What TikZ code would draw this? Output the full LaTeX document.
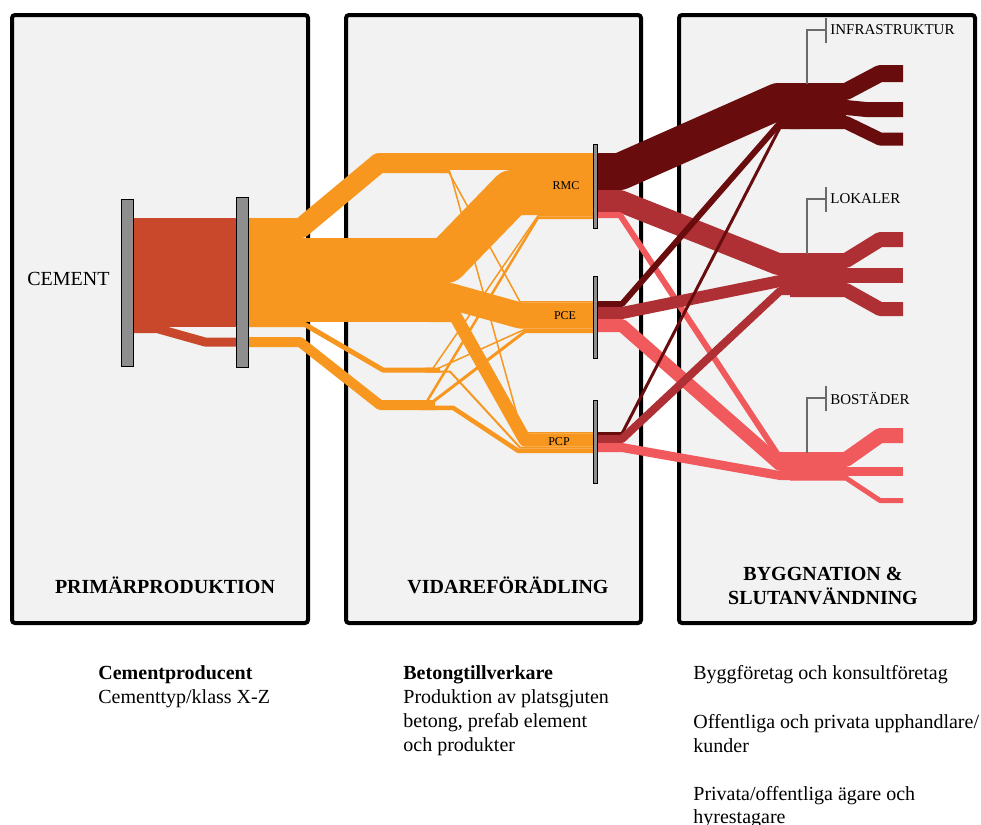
\documentclass[tikz,border=0pt]{standalone}
\usepackage{fontspec}
\setmainfont{Liberation Serif}
\usetikzlibrary{positioning}

\definecolor{panelgray}{HTML}{F2F2F2}
\definecolor{cemred}{HTML}{C9472A}
\definecolor{betong}{HTML}{F7971F}
\definecolor{infra}{HTML}{690C0E}
\definecolor{lokal}{HTML}{AE3035}
\definecolor{bostad}{HTML}{F15A5C}
\definecolor{barfill}{HTML}{8E8E8E}
\definecolor{tickgray}{HTML}{6A6A6A}

\tikzset{
  panel/.style={draw=black,line width=2pt,fill=panelgray,rounded corners=1.5pt},
  band/.style={line join=round},
  bw/.style={line width=#1*0.5pt},
  bar/.style={draw=black,line width=0.5pt,fill=barfill,inner sep=0pt},
  head/.style={font=\bfseries,align=center},
  note/.style={anchor=base west,inner sep=0pt},
  tag/.style={font=\fontsize{7.5}{9}\selectfont,anchor=west,inner sep=0pt},
  plant/.style={font=\fontsize{6}{7}\selectfont,inner sep=0pt},
  tick/.style={draw=tickgray,line width=0.6pt}
}

\begin{document}
\begin{tikzpicture}[x=0.5pt,y=-0.5pt]
  \useasboundingbox (0,0) rectangle (981,825);
  % panels
  \draw[panel] (12,15) rectangle (308,623);
  \draw[panel] (346,15) rectangle (641,623);
  \draw[panel] (679,15) rectangle (975,623);

  % cement
  \draw[band,bw=109,cemred] (133,272.5) -- (237,272.5);
  \draw[band,bw=9,cemred] (133,328.5) -- (157,328.5) -- (205,342) -- (237,342);

  % betong, first split
  \begin{scope}[betong]
  \draw[band,bw=20] (248,228) -- (301,228) -- (379,163) -- (450,163);
  \draw[band,bw=84] (248,280) -- (450,280);
  \draw[band,bw=5] (248,324.5) -- (305,324.5) -- (383,370) -- (440,370);
  \draw[band,bw=10] (248,342) -- (300,342) -- (380,405) -- (435,405);
  % to RMC, PCE, PCP
  \draw[band,bw=17] (440,161.5) -- (593,161.5);
  \draw[band,bw=1.5] (440,170.75) -- (448,170.75) -- (520,301.75) -- (593,301.75);
  \draw[band,bw=1.5] (440,172.25) -- (450,172.25) -- (522,432.75) -- (593,432.75);
  \draw[band,bw=45] (430,260.5) -- (446,260.5) -- (512,192.5) -- (593,192.5);
  \draw[band,bw=26] (430,296) -- (450,296) -- (520,315.5) -- (593,315.5);
  \draw[band,bw=13] (430,315.5) -- (455,315.5) -- (525,440) -- (593,440);
  \draw[band,bw=1.5] (425,368.25) -- (433,368.25) -- (538,215.75) -- (593,215.75);
  \draw[band,bw=1.5] (425,369.75) -- (435,369.75) -- (525,329.25) -- (593,329.25);
  \draw[band,bw=2] (425,371.5) -- (450,371.5) -- (520,447.5) -- (593,447.5);
  \draw[band,bw=2.5] (420,401.25) -- (427,401.25) -- (538,217.75) -- (593,217.75);
  \draw[band,bw=3] (420,404) -- (430,404) -- (525,331.5) -- (593,331.5);
  \draw[band,bw=4.5] (420,407.75) -- (453,407.75) -- (518,450.75) -- (593,450.75);
  \end{scope}

  % end use
  \draw[band,bw=37,infra] (597,171.5) -- (620,171.5) -- (778,101.5) -- (800,101.5);
  \draw[band,bw=22,lokal] (597,201) -- (620,201) -- (778,264) -- (800,264);
  \draw[band,bw=6,bostad] (597,215) -- (620,215) -- (778,455) -- (800,455);
  \draw[band,bw=6,infra] (597,304) -- (622,304) -- (780,123) -- (800,123);
  \draw[band,bw=12,lokal] (597,313) -- (622,313) -- (780,281) -- (800,281);
  \draw[band,bw=13,bostad] (597,325.5) -- (622,325.5) -- (780,464.5) -- (800,464.5);
  \draw[band,bw=3,infra] (597,433.5) -- (622,433.5) -- (780,127.5) -- (800,127.5);
  \draw[band,bw=8,lokal] (597,439) -- (622,439) -- (780,291) -- (800,291);
  \draw[band,bw=9,bostad] (597,447.5) -- (622,447.5) -- (780,475.5) -- (800,475.5);

  \fill[infra] (790,83) rectangle (846,129);
  \fill[lokal] (790,253) rectangle (846,295);
  \fill[bostad] (790,452) rectangle (846,480);

  \draw[band,bw=17,infra] (790,91.5) -- (846,91.5) -- (880,73.5) -- (903,73.5);
  \draw[band,bw=15,infra] (790,107.5) -- (846,107.5) -- (866,109.5) -- (903,109.5);
  \draw[band,bw=13,infra] (790,122.5) -- (846,122.5) -- (880,139) -- (903,139);
  \draw[band,bw=15,lokal] (790,260.5) -- (846,260.5) -- (880,239.5) -- (903,239.5);
  \draw[band,bw=15,lokal] (790,275.5) -- (903,275.5);
  \draw[band,bw=14,lokal] (790,290) -- (846,290) -- (880,309) -- (903,309);
  \draw[band,bw=15,bostad] (790,459.5) -- (846,459.5) -- (880,435.5) -- (903,435.5);
  \draw[band,bw=9,bostad] (790,471.5) -- (903,471.5);
  \draw[band,bw=5,bostad] (790,478) -- (846,478) -- (880,500.5) -- (903,500.5);

  % bars
  \node[bar,minimum width=6pt,minimum height=83.5pt] (cembar) at (127,282.5) {};
  \node[bar,minimum width=5.75pt,minimum height=85pt] (betbar) at (242.25,282) {};
  \node[bar,minimum width=2.25pt,minimum height=42pt] (rmcbar) at (595.25,186) {};
  \node[bar,minimum width=2.25pt,minimum height=41pt] (pcebar) at (595.25,317) {};
  \node[bar,minimum width=2.25pt,minimum height=41.5pt] (pcpbar) at (595.25,441.5) {};

  \node[plant] (rmc) at (566,186) {RMC};
  \node[plant] (pce) at (565,316) {PCE};
  \node[plant] (pcp) at (559,442) {PCP};
  \node[note] (cement) at (27,285) {CEMENT};

  % end use labels
  \node[tag] (infralbl) at (830,30) {INFRASTRUKTUR};
  \node[tag] (lokallbl) at (830,199) {LOKALER};
  \node[tag] (bostlbl) at (830,398) {BOSTÄDER};
  \coordinate (infratop) at (807,84);
  \coordinate (lokaltop) at (807,254);
  \coordinate (bosttop) at (807,453);
  \foreach \l/\t in {infralbl/infratop,lokallbl/lokaltop,bostlbl/bosttop}{
    \draw[tick] ([xshift=-2pt,yshift=6.25pt]\l.west) -- ([xshift=-2pt,yshift=-6.25pt]\l.west);
    \draw[tick] ([xshift=-2pt]\l.west) -- (\t |- \l.west) -- (\t);
  }

  % headings
  \node[head] (prim) at (165,585) {PRIMÄRPRODUKTION};
  \node[head] (vidare) at (508,585) {VIDAREFÖRÄDLING};
  \node[head] (bygg) at (823,586) {BYGGNATION \&\\SLUTANVÄNDNING};

  % notes
  \node[note] (cemA) at (98,679) {\textbf{Cementproducent}};
  \node[note] (cemB) at (98,703) {Cementtyp/klass X-Z};
  \node[note] (betA) at (403,679) {\textbf{Betongtillverkare}};
  \node[note] (betB) at (403,703) {Produktion av platsgjuten};
  \node[note] (betC) at (403,727) {betong, prefab element};
  \node[note] (betD) at (403,751) {och produkter};
  \node[note] (bygA) at (693,679) {Byggföretag och konsultföretag};
  \node[note] (bygB) at (693,728) {Offentliga och privata upphandlare/};
  \node[note] (bygC) at (693,752) {kunder};
  \node[note] (bygD) at (693,800) {Privata/offentliga ägare och};
  \node[note] (bygE) at (693,823) {hyrestagare};
\end{tikzpicture}
\end{document}
